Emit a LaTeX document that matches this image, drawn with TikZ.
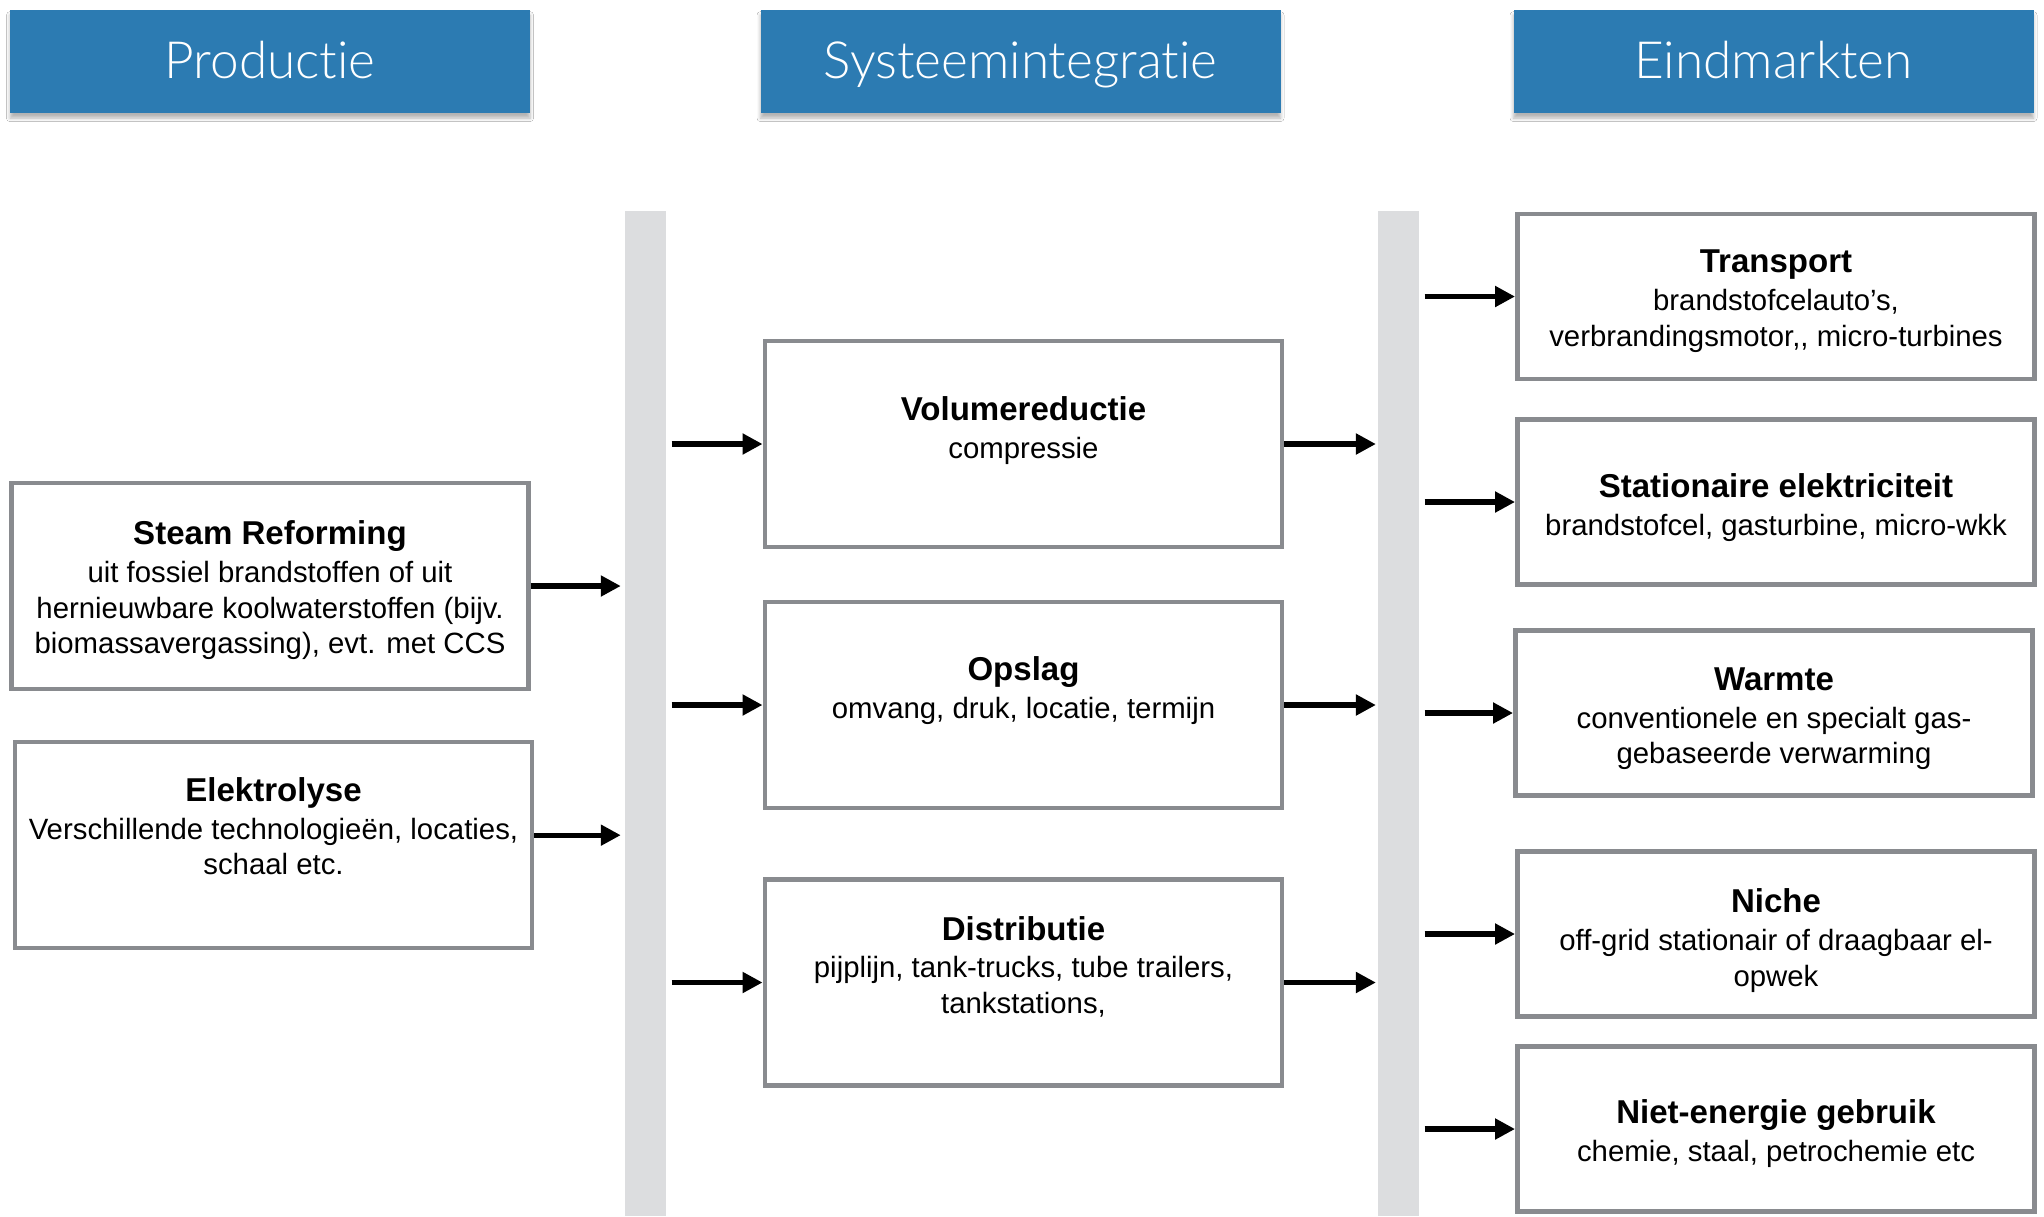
\documentclass[tikz,border=0pt]{standalone}
\usepackage{fontspec}
\setmainfont{Liberation Sans}
\IfFontExistsTF{Lato Light}{\newfontfamily\headfont{Lato Light}[Ligatures={NoCommon,NoDiscretionary}]}{\newfontfamily\headfont{Liberation Sans}}
\usetikzlibrary{positioning,arrows.meta,shadows.blur}
\definecolor{headblue}{RGB}{44,123,178}
\definecolor{boxgray}{RGB}{137,139,143}
\definecolor{bargray}{RGB}{220,221,223}
\newcommand\boxtitle[1]{{\bfseries\fontsize{9.4}{9.8}\selectfont #1}\\[0.7pt]}

\begin{document}
\begin{tikzpicture}[
  x=0.1mm, y=-0.1mm,
  header/.style={rectangle, fill=headblue, minimum width=52mm, minimum height=10.3mm,
    inner sep=0pt, text=white, font=\headfont\fontsize{14.6}{16}\selectfont,
    text height=10pt, text depth=0pt,
    blur shadow={shadow xshift=0pt, shadow yshift=-1.6pt, shadow blur radius=1pt, shadow opacity=30}},
  box/.style={rectangle, draw=boxgray, line width=1.4pt, fill=white,
    minimum width=51.7mm, minimum height=20.6mm, inner sep=0pt},
  smallbox/.style={box, minimum height=16.5mm},
  boxtext/.style={align=center, inner sep=0pt, font=\fontsize{8.35}{10.1}\selectfont},
  bar/.style={rectangle, fill=bargray, minimum width=4.1mm, minimum height=100.5mm, inner sep=0pt},
  flow/.style={-{Triangle[length=5.7pt,width=5.7pt]}, line width=1.5pt}
]
\path[use as bounding box, fill=white] (0,0) rectangle (2044,1216);

\node[header] (prod) at (270,61) {Productie};
\node[header] (sys) at (1020.5,61) {Systeemintegratie};
\node[header] (eind) at (1773.5,61) {Eindmarkten};

\node[bar] (bar1) at (645.5,713.5) {};
\node[bar] (bar2) at (1398.5,713.5) {};

\node[box] (steam) at (270,586) {};
\node[boxtext, below=11.3pt of steam.north] (steamtxt) {\boxtitle{Steam Reforming}uit fossiel brandstoffen of uit\\hernieuwbare koolwaterstoffen (bijv.\\biomassavergassing), evt. met CCS};
\node[box] (elek) at (273.5,845) {};
\node[boxtext, below=10.6pt of elek.north] (elektxt) {\boxtitle{Elektrolyse}Verschillende technologieën, locaties,\\schaal etc.};

\node[box] (vol) at (1023.5,444) {};
\node[boxtext, below=16.2pt of vol.north] (voltxt) {\boxtitle{Volumereductie}compressie};
\node[box] (opslag) at (1023.5,705) {};
\node[boxtext, below=15.9pt of opslag.north] (opslagtxt) {\boxtitle{Opslag}omvang, druk, locatie, termijn};
\node[box] (distr) at (1023.5,982.5) {};
\node[boxtext, below=10.9pt of distr.north] (distrtxt) {\boxtitle{Distributie}pijplijn, tank-trucks, tube trailers,\\tankstations,};

\node[smallbox] (trans) at (1776,296.5) {};
\node[boxtext, below=10.8pt of trans.north] (transtxt) {\boxtitle{Transport}brandstofcelauto’s,\\verbrandingsmotor,{},{} micro-turbines};
\node[smallbox] (stat) at (1776,502) {};
\node[boxtext, below=15.9pt of stat.north] (stattxt) {\boxtitle{Stationaire elektriciteit}brandstofcel, gasturbine, micro-wkk};
\node[smallbox] (warm) at (1774,713) {};
\node[boxtext, below=11.1pt of warm.north] (warmtxt) {\boxtitle{Warmte}conventionele en specialt gas-\\gebaseerde verwarming};
\node[smallbox] (niche) at (1776,934) {};
\node[boxtext, below=11.1pt of niche.north] (nichetxt) {\boxtitle{Niche}off-grid stationair of draagbaar el-\\opwek};
\node[smallbox] (niet) at (1776,1129) {};
\node[boxtext, below=15.6pt of niet.north] (niettxt) {\boxtitle{Niet-energie gebruik}chemie, staal, petrochemie etc};

\coordinate (elekout) at ([yshift=2.8pt]elek.east);
\draw[flow, shorten >=1pt] (steam.east) -- (steam.east -| bar1.west);
\draw[flow, shorten >=1pt] (elekout) -- (elekout -| bar1.west);
\foreach \b in {vol,opslag,distr} {
  \draw[flow, shorten <=1.4pt] (\b.west -| bar1.east) -- (\b.west);
  \draw[flow, shorten >=0.4pt] (\b.east) -- (\b.east -| bar2.west);
}
\foreach \b in {trans,stat,warm,niche,niet}
  \draw[flow, shorten <=1.4pt] (\b.west -| bar2.east) -- (\b.west);
\end{tikzpicture}
\end{document}
